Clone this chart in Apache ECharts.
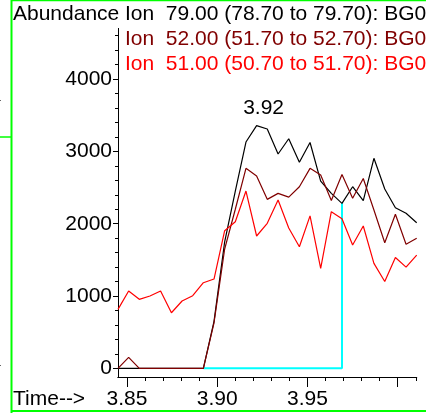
<!DOCTYPE html>
<html>
<head>
<meta charset="utf-8">
<script src="https://cdn.jsdelivr.net/npm/echarts@6/dist/echarts.min.js"></script>
<style>
html,body{margin:0;padding:0;background:#fff;}
#chart{width:426px;height:413px;}
</style>
</head>
<body>
<div id="chart"></div>
<script>
// Retention times (min)
var times = [3.8450,3.8509,3.8568,3.8627,3.8686,3.8746,3.8805,3.8864,3.8923,3.8982,3.9041,3.9100,3.9159,3.9218,3.9277,3.9337,3.9396,3.9455,3.9514,3.9573,3.9632,3.9691,3.9750,3.9809,3.9868,3.9928,3.9987,4.0046,4.0105];
// Abundances
var ion79 = [0,0,0,0,0,0,0,0,0,650,1750,2450,3130,3356,3310,2964,3175,2850,3123,2590,2420,2282,2512,2318,2905,2480,2221,2144,2014];
var ion52 = [0,152,0,0,0,0,0,0,0,630,1650,2200,2766,2660,2337,2420,2368,2512,2766,2675,2322,2680,2351,2625,2190,1737,2130,1717,1798];
var ion51 = [816,1069,954,1000,1069,769,931,1004,1184,1235,1903,2028,2452,1830,2005,2328,1940,1682,2109,1383,2166,2070,1705,1968,1452,1200,1532,1400,1567];
var seriesNames = ['Ion  79.00 (78.70 to 79.70): BG0','Ion  52.00 (51.70 to 52.70): BG0','Ion  51.00 (50.70 to 51.70): BG0'];
var peakLabel = '3.92';
var peakIndex = 13;
var baseStartIdx = 8, baseEndIdx = 21;
// Axis ticks
var yMajor = [0,1000,2000,3000,4000];
var yMinor = [0,200,400,600,800,1000,1200,1400,1600,1800,2000,2200,2400,2600,2800,3000,3200,3400,3600,3800,4000,4200,4400,4600];
var xMajor = [3.85,3.90,3.95,4.00];
var xLabels = [3.85,3.90,3.95];
var xMinor = [3.85,3.86,3.87,3.88,3.89,3.90,3.91,3.92,3.93,3.94,3.95,3.96,3.97,3.98,3.99,4.00,4.01];

function pairs(ys){ return ys.map(function(v,i){ return [times[i], v]; }); }
var baseline = [[times[baseStartIdx],0],[times[baseEndIdx],0],[times[baseEndIdx],ion79[baseEndIdx]]];

var FONT = '"Liberation Sans", Arial, sans-serif';
var FS = 21;
var chart = echarts.init(document.getElementById('chart'), null, {renderer:'canvas'});
var xBase = {type:'value', position:'bottom', min:3.845, max:4.0105, splitLine:{show:false}, axisLine:{show:true, onZero:false, lineStyle:{color:'#000', width:1}}};
var yBase = {type:'value', position:'left', min:-120, max:4700, splitLine:{show:false}, axisLine:{show:true, onZero:false, lineStyle:{color:'#000', width:1}}};
chart.setOption({
  animation:false,
  backgroundColor:'#fff',
  grid:{left:118, right:9.3, top:28.5, bottom:36, containLabel:false},
  xAxis:[
    Object.assign({}, xBase, {axisTick:{show:true, customValues:xMajor, length:10, lineStyle:{color:'#000'}},
      axisLabel:{show:true, customValues:xLabels, formatter:function(v){return v.toFixed(2);}, fontSize:FS, color:'#000', fontFamily:FONT, margin:12}}),
    Object.assign({}, xBase, {axisTick:{show:true, customValues:xMinor, length:4, lineStyle:{color:'#000'}}, axisLabel:{show:false}})
  ],
  yAxis:[
    Object.assign({}, yBase, {axisTick:{show:true, customValues:yMajor, length:5, lineStyle:{color:'#000'}},
      axisLabel:{show:true, customValues:yMajor, formatter:function(v){return String(v);}, fontSize:FS, color:'#000', fontFamily:FONT, margin:6}}),
    Object.assign({}, yBase, {axisTick:{show:true, customValues:yMinor, length:3, lineStyle:{color:'#000'}}, axisLabel:{show:false}})
  ],
  series:[
    {type:'line', name:'baseline', data:baseline, showSymbol:false, lineStyle:{color:'#00ffff', width:2}, z:1},
    {type:'line', name:seriesNames[0], data:pairs(ion79), showSymbol:false, lineStyle:{color:'#000000', width:1.2}, z:2,
      markPoint:{symbol:'circle', symbolSize:0, data:[{coord:[times[peakIndex], ion79[peakIndex]], value:peakLabel}],
        label:{show:true, position:'top', formatter:peakLabel, color:'#000', fontSize:FS, fontFamily:FONT, offset:[7,-2]}}},
    {type:'line', name:seriesNames[1], data:pairs(ion52), showSymbol:false, lineStyle:{color:'#800000', width:1.2}, z:3},
    {type:'line', name:seriesNames[2], data:pairs(ion51), showSymbol:false, lineStyle:{color:'#ff0000', width:1.2}, z:4}
  ],
  graphic:[
    {type:'line', shape:{x1:11.5,y1:0,x2:11.5,y2:413}, style:{stroke:'#00ff00', lineWidth:2}, silent:true},
    {type:'line', shape:{x1:11,y1:0.5,x2:426,y2:0.5}, style:{stroke:'#00ff00', lineWidth:1.5}, silent:true},
    {type:'line', shape:{x1:11,y1:411,x2:426,y2:411}, style:{stroke:'#00ff00', lineWidth:2}, silent:true},
    {type:'line', shape:{x1:0,y1:137,x2:11,y2:137}, style:{stroke:'#00ff00', lineWidth:1.5}, silent:true},
    {type:'rect', shape:{x:0,y:100,width:1,height:1}, style:{fill:'#666'}, silent:true},
    {type:'rect', shape:{x:0,y:365,width:1,height:1}, style:{fill:'#666'}, silent:true},
    {type:'text', x:13, y:14.5, style:{text:'Abundance', fill:'#000', font:FS+'px '+FONT, textVerticalAlign:'middle'}},
    {type:'text', x:125, y:14.5, style:{text:seriesNames[0], fill:'#000000', font:FS+'px '+FONT, textVerticalAlign:'middle'}},
    {type:'text', x:125, y:39.5, style:{text:seriesNames[1], fill:'#800000', font:FS+'px '+FONT, textVerticalAlign:'middle'}},
    {type:'text', x:125, y:64.5, style:{text:seriesNames[2], fill:'#ff0000', font:FS+'px '+FONT, textVerticalAlign:'middle'}},
    {type:'text', x:13, y:399.5, style:{text:'Time-->', fill:'#000', font:FS+'px '+FONT, textVerticalAlign:'middle'}}
  ]
});
</script>
</body>
</html>
